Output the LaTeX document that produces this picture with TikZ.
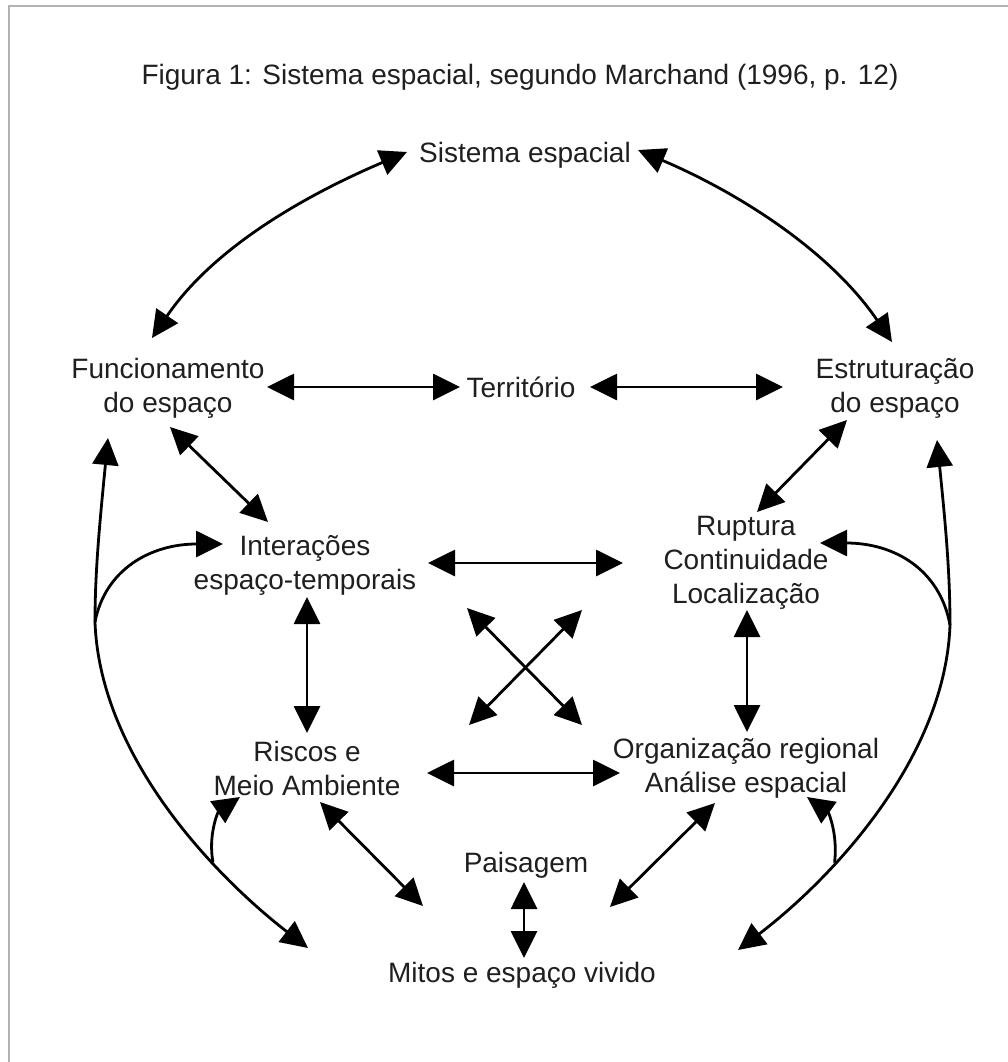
\documentclass[tikz,border=0pt]{standalone}
\usepackage{fontspec}
\setmainfont{Liberation Sans}
\usetikzlibrary{arrows.meta,calc}
\begin{document}
\begin{tikzpicture}[x=1pt,y=-1pt,
  lbl/.style={font=\fontsize{28}{34}\selectfont, text=black!88, align=center, inner sep=0pt},
  dbl/.style={line width=2.8pt, {Triangle[length=27pt,width=26pt]}-{Triangle[length=27pt,width=26pt]}},
  sgl/.style={line width=2.8pt, -{Triangle[length=27pt,width=26pt]}}]
\fill[white] (0,0) rectangle (1008,1062);
\useasboundingbox (0,0) rectangle (1008,1062);
\draw[black!30, line width=2pt] (9,1062) -- (9,6) -- (1008,6);

% nodes
\node[lbl] (title) at (520,77) {Figura 1: Sistema espacial, segundo Marchand (1996, p. 12)};
\node[lbl] (sis) at (525,155) {Sistema espacial};
\node[lbl] (fun) at (168,388) {Funcionamento\\do espaço};
\node[lbl] (ter) at (521,387) {Território};
\node[lbl] (est) at (895,388) {Estruturação\\do espaço};
\node[lbl] (int) at (305,565) {Interações\\espaço-temporais};
\node[lbl] (rup) at (746,563) {Ruptura\\Continuidade\\Localização};
\node[lbl] (ris) at (307,768) {Riscos e\\Meio Ambiente};
\node[lbl] (org) at (746,768) {Organização regional\\Análise espacial};
\node[lbl] (pai) at (526,865) {Paisagem};
\node[lbl] (mit) at (522,975) {Mitos e espaço vivido};

% top curved arrows
\draw[dbl] ($(sis)+(-118,-3)$) .. controls (306,195) and (214,247) .. ($(fun)+(-16,-50)$);
\draw[dbl] ($(sis)+(113,-5)$) .. controls (739,193) and (830,251) .. ($(est)+(-3,-46)$);

% straight arrows
\draw[dbl] ($(fun)+(99,-1)$) -- ($(ter)+(-61,0)$);
\draw[dbl] ($(ter)+(69,0)$) -- ($(est)+(-112,-1)$);
\draw[dbl] ($(fun)+(2,39)$) -- ($(int)+(-37,-43)$);
\draw[dbl] ($(est)+(-48,32)$) -- ($(rup)+(11,-51)$);
\draw[dbl] ($(int)+(123,-2)$) -- ($(rup)+(-123,0)$);
\draw[dbl] ($(int)+(2,32)$) -- ($(ris)+(0,-35)$);
\draw[dbl] ($(rup)+(1,47)$) -- ($(org)+(1,-36)$);
\draw[dbl] ($(int)+(162,43)$) -- ($(org)+(-164,-43)$);
\draw[dbl] ($(ris)+(162,-43)$) -- ($(rup)+(-164,47)$);
\draw[dbl] ($(ris)+(120,5)$) -- ($(org)+(-126,5)$);
\draw[dbl] ($(ris)+(13,34)$) -- ($(mit)+(-99,-69)$);
\draw[dbl] ($(org)+(-31,35)$) -- ($(mit)+(88,-68)$);
\draw[dbl] ($(pai)+(-2,17)$) -- ($(mit)+(2,-17)$);

% big left curve
\draw[dbl] ($(fun)+(-60,50)$) .. controls (100,520) and (95,570) .. (95,622) coordinate (jl)
  .. controls (100,760) and (220,880) .. coordinate[pos=0.66] (jl2) ($(mit)+(-214,-27)$);
\draw[sgl] (jl) .. controls (105,570) and (150,544) .. ($(int)+(-82,-21)$);
\draw[sgl] (jl2) .. controls (208,835) and (218,812) .. ($(ris)+(-67,29)$);

% big right curve
\draw[dbl] ($(est)+(42,52)$) .. controls (945,520) and (950,570) .. (950,625) coordinate (jr)
  .. controls (945,760) and (830,880) .. coordinate[pos=0.66] (jr2) ($(mit)+(216,-25)$);
\draw[sgl] (jr) .. controls (940,570) and (895,543) .. ($(rup)+(74,-20)$);
\draw[sgl] (jr2) .. controls (838,833) and (828,812) .. ($(org)+(61,29)$);
\end{tikzpicture}
\end{document}
